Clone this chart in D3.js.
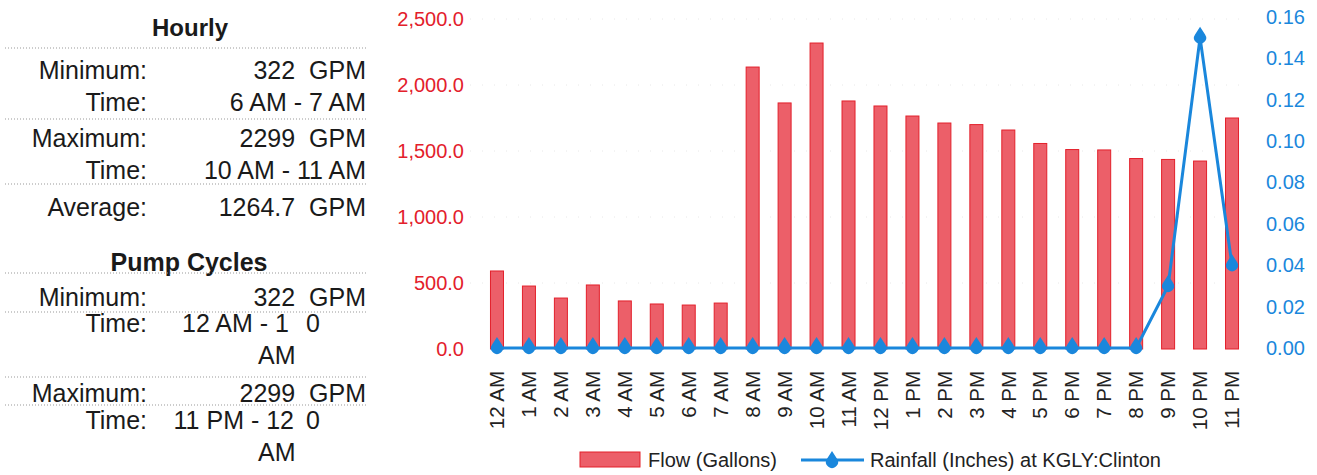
<!DOCTYPE html>
<html>
<head>
<meta charset="utf-8">
<script src="https://cdn.jsdelivr.net/npm/d3@7"></script>
<style>
  body { margin: 0; background: #fff; }
  svg { font-family: "Liberation Sans", Arial, sans-serif; }
</style>
</head>
<body>
<div id="chart"></div>
<script>
const hours = ["12 AM", "1 AM", "2 AM", "3 AM", "4 AM", "5 AM", "6 AM", "7 AM", "8 AM", "9 AM", "10 AM", "11 AM",
  "12 PM", "1 PM", "2 PM", "3 PM", "4 PM", "5 PM", "6 PM", "7 PM", "8 PM", "9 PM", "10 PM", "11 PM"];
const flow = [591, 477, 386, 485, 364, 341, 333, 348, 2136, 1864, 2318, 1879,
  1841, 1765, 1712, 1700, 1659, 1557, 1511, 1508, 1443, 1436, 1424, 1750];
const rainfall = [0, 0, 0, 0, 0, 0, 0, 0, 0, 0, 0, 0,
  0, 0, 0, 0, 0, 0, 0, 0, 0, 0.03, 0.15, 0.04];
const flowTicks = [0, 500, 1000, 1500, 2000, 2500];
const rainTicks = [0, 0.02, 0.04, 0.06, 0.08, 0.10, 0.12, 0.14, 0.16];

// summary table on the left
const hourlyRows = [
  ["Minimum:", "322  GPM"],
  ["Time:", "6 AM - 7 AM"],
  ["Maximum:", "2299  GPM"],
  ["Time:", "10 AM - 11 AM"],
  ["Average:", "1264.7  GPM"]
];

const width = 1317, height = 475;
const red = "#e3202b", barFill = "#ec5f69", blue = "#1a87dc";
const font = "'Liberation Sans', Arial, sans-serif";

const svg = d3.select("#chart").append("svg")
    .attr("width", width)
    .attr("height", height);

// ---- left panel ----
const panel = svg.append("g").attr("font-size", 25).attr("fill", "#1a1a1a");

function dotted(y) {
  panel.append("line")
      .attr("x1", 5).attr("x2", 368)
      .attr("y1", y).attr("y2", y)
      .attr("stroke", "#999")
      .attr("stroke-width", 1)
      .attr("stroke-dasharray", "1,2");
}

function row(y, label, value) {
  panel.append("text").attr("x", 147).attr("y", y).attr("dy", "0.35em")
      .attr("text-anchor", "end").text(label);
  if (value) {
    panel.append("text").attr("x", 366).attr("y", y).attr("dy", "0.35em")
        .attr("text-anchor", "end").attr("xml:space", "preserve").text(value);
  }
}

panel.append("text").attr("x", 190).attr("y", 28).attr("dy", "0.35em")
    .attr("text-anchor", "middle").attr("font-weight", "bold").attr("font-size", 24).text("Hourly");
dotted(48);
row(70, ...hourlyRows[0]);
row(102, ...hourlyRows[1]);
dotted(119);
row(138, ...hourlyRows[2]);
row(170, ...hourlyRows[3]);
dotted(184);
row(207, ...hourlyRows[4]);

panel.append("text").attr("x", 189).attr("y", 262).attr("dy", "0.35em")
    .attr("text-anchor", "middle").attr("font-weight", "bold").text("Pump Cycles");
dotted(273);
row(297, "Minimum:", "322  GPM");
dotted(312);
row(323, "Time:");
panel.append("text").attr("x", 289).attr("y", 323).attr("dy", "0.35em").attr("text-anchor", "end").text("12 AM - 1");
panel.append("text").attr("x", 306).attr("y", 323).attr("dy", "0.35em").text("0");
panel.append("text").attr("x", 258).attr("y", 355).attr("dy", "0.35em").text("AM");
dotted(377);
row(393, "Maximum:", "2299  GPM");
dotted(405);
row(420, "Time:");
panel.append("text").attr("x", 294).attr("y", 420).attr("dy", "0.35em").attr("text-anchor", "end").text("11 PM - 12");
panel.append("text").attr("x", 306).attr("y", 420).attr("dy", "0.35em").text("0");
panel.append("text").attr("x", 258).attr("y", 452).attr("dy", "0.35em").text("AM");

// ---- chart ----
const x = d3.scaleBand().domain(hours).range([481, 1248]);
const yFlow = d3.scaleLinear().domain([0, 2500]).range([349, 19]);
const yRain = d3.scaleLinear().domain([0, 0.16]).range([348, 17]);

// faint grid
svg.append("g")
  .selectAll("line")
  .data(flowTicks.slice(1))
  .join("line")
    .attr("x1", 470).attr("x2", 1250)
    .attr("y1", d => yFlow(d)).attr("y2", d => yFlow(d))
    .attr("stroke", "#e8e8e8")
    .attr("stroke-dasharray", "1,11");

const fmtFlow = d3.format(",.1f");
svg.append("g")
    .attr("transform", "translate(464,0)")
    .call(d3.axisLeft(yFlow).tickValues(flowTicks).tickFormat(fmtFlow).tickSize(0).tickPadding(0))
    .call(g => g.select(".domain").remove())
    .call(g => g.selectAll("text").attr("fill", red).attr("font-size", 20).attr("font-family", font));

svg.append("g")
    .attr("transform", "translate(1266,0)")
    .call(d3.axisRight(yRain).tickValues(rainTicks).tickFormat(d3.format(".2f")).tickSize(0).tickPadding(0))
    .call(g => g.select(".domain").remove())
    .call(g => g.selectAll("text").attr("fill", blue).attr("font-size", 20).attr("font-family", font));

// x labels
svg.append("g")
    .attr("transform", "translate(0,366)")
    .call(d3.axisBottom(x).tickSize(0).tickPadding(0))
    .call(g => g.select(".domain").remove())
    .call(g => g.selectAll("text")
      .attr("fill", "#222")
      .attr("font-size", 20.5)
      .attr("font-family", font)
      .attr("transform", "rotate(-90)")
      .attr("text-anchor", "end")
      .attr("x", -5)
      .attr("y", 0)
      .attr("dy", "0.35em"));

// bars
const barW = 13;
svg.append("g")
  .selectAll("rect")
  .data(flow)
  .join("rect")
    .attr("x", (d, i) => x(hours[i]) + x.bandwidth() / 2 - barW / 2)
    .attr("y", d => yFlow(d))
    .attr("width", barW)
    .attr("height", d => yFlow(0) - yFlow(d))
    .attr("fill", barFill)
    .attr("stroke", red)
    .attr("stroke-width", 1);

// rainfall line
const line = d3.line()
    .x((d, i) => x(hours[i]) + x.bandwidth() / 2)
    .y(d => yRain(d));

svg.append("path")
    .datum(rainfall)
    .attr("d", line)
    .attr("fill", "none")
    .attr("stroke", blue)
    .attr("stroke-width", 3);

const drop = "M0,-11 L5,-3.3 A6,6 0 1,1 -5,-3.3 Z";
svg.append("g")
  .selectAll("path")
  .data(rainfall)
  .join("path")
    .attr("transform", (d, i) => `translate(${x(hours[i]) + x.bandwidth() / 2},${yRain(d)})`)
    .attr("d", drop)
    .attr("fill", blue);

// legend
const legend = svg.append("g").attr("font-size", 20).attr("fill", "#222");
legend.append("rect")
    .attr("x", 580).attr("y", 452).attr("width", 60).attr("height", 15)
    .attr("fill", barFill).attr("stroke", red);
legend.append("text").attr("x", 648).attr("y", 460).attr("dy", "0.35em").text("Flow (Gallons)");
legend.append("line")
    .attr("x1", 801).attr("x2", 864).attr("y1", 460).attr("y2", 460)
    .attr("stroke", blue).attr("stroke-width", 3);
legend.append("path")
    .attr("transform", "translate(832,462)")
    .attr("d", drop)
    .attr("fill", blue);
legend.append("text").attr("x", 870).attr("y", 460).attr("dy", "0.35em").text("Rainfall (Inches) at KGLY:Clinton");
</script>
</body>
</html>
